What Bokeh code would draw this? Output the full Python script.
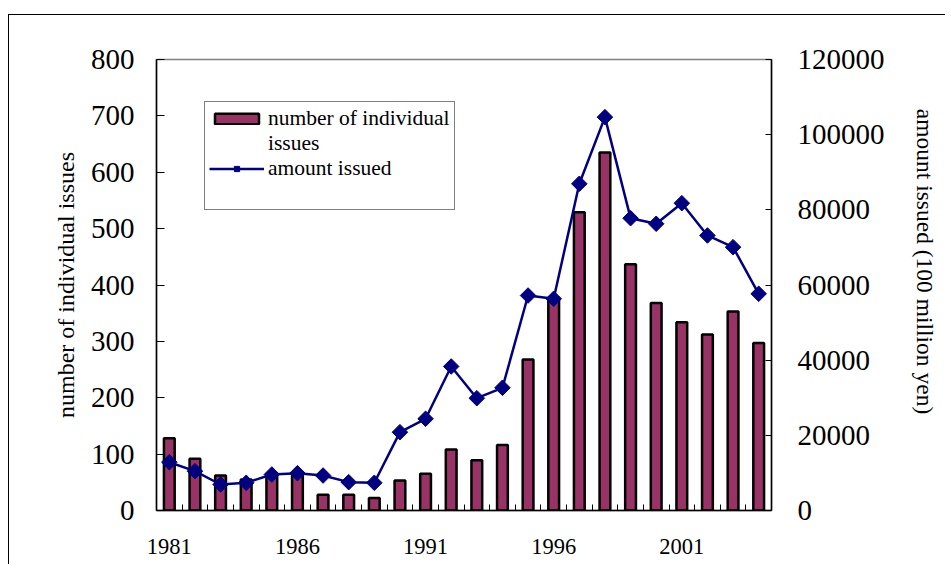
import numpy as np
from bokeh.plotting import figure
from bokeh.models import (Range1d, LinearAxis, FixedTicker, NumeralTickFormatter,
                          Legend, LegendItem)
from bokeh.embed import file_html
from bokeh.resources import INLINE

years = list(range(1981, 2005))
num_issues = [128, 92, 62, 55, 62, 62, 28, 28, 22, 53, 65, 108, 89, 116, 268,
              378, 529, 635, 437, 368, 334, 312, 353, 297]
amount_issued = [12850, 10460, 6920, 7370, 9580, 9930, 9310, 7540, 7370, 20840,
                 24400, 38320, 29880, 32650, 57200, 56330, 86930, 104660, 77780,
                 76290, 81770, 73180, 70070, 57660]
year_labels = [1981, 1986, 1991, 1996, 2001]
left_ticks = list(range(0, 801, 100))
right_ticks = list(range(0, 120001, 20000))

FONT = "Liberation Serif"

p = figure(width=937, height=550, output_backend="svg", toolbar_location=None,
           x_range=Range1d(years[0] - 0.5, years[-1] + 0.5),
           y_range=Range1d(0, 800),
           min_border_left=147, min_border_top=44, min_border_right=175,
           min_border_bottom=55,
           styles={"margin-left": "8px", "margin-top": "14px",
                   "border-left": "1px solid black", "border-top": "1px solid black"})
p.extra_y_ranges = {"amt": Range1d(0, 120000)}
p.xgrid.visible = False
p.ygrid.visible = False
p.outline_line_color = "#808080"
p.outline_line_width = 1.5

bars = p.vbar(x=years, top=num_issues, width=0.42, fill_color="#993366",
              line_color="black", line_width=2.5)
line = p.line(x=years, y=amount_issued, y_range_name="amt", line_color="#000080",
              line_width=2.5)
marks = p.scatter(x=years, y=amount_issued, y_range_name="amt", marker="square",
                  angle=np.pi / 4, size=11, fill_color="#000080", line_color="#000080")
blank = p.scatter(x=[], y=[], alpha=0)

# bottom axis
xa = p.xaxis[0]
xa.ticker = FixedTicker(ticks=year_labels,
                        minor_ticks=[y + 0.5 for y in years[:-1]])
xa.major_tick_in = 0
xa.major_tick_out = 0
xa.minor_tick_in = 6
xa.minor_tick_out = 0
xa.axis_line_color = "black"
xa.axis_line_width = 1.5
xa.major_label_text_font = FONT
xa.major_label_text_font_size = "22.5px"
xa.major_label_text_color = "black"
xa.major_label_standoff = 28

# left axis
ya = p.yaxis[0]
ya.ticker = FixedTicker(ticks=left_ticks)
ya.minor_tick_line_color = None
ya.major_tick_in = 8
ya.major_tick_out = 0
ya.axis_line_color = "black"
ya.axis_line_width = 1.5
ya.major_label_text_font = FONT
ya.major_label_text_font_size = "29px"
ya.major_label_text_color = "black"
ya.major_label_standoff = 22
ya.axis_label = "number of individual issues"
ya.axis_label_text_font = FONT
ya.axis_label_text_font_style = "normal"
ya.axis_label_text_font_size = "24px"
ya.axis_label_text_color = "black"
ya.axis_label_standoff = 9

# right axis
ra = LinearAxis(y_range_name="amt", ticker=FixedTicker(ticks=right_ticks),
                formatter=NumeralTickFormatter(format="0"))
ra.minor_tick_line_color = None
ra.major_tick_in = 6
ra.major_tick_out = 0
ra.axis_line_color = "black"
ra.axis_line_width = 1.5
ra.major_label_text_font = FONT
ra.major_label_text_font_size = "29px"
ra.major_label_text_color = "black"
ra.major_label_standoff = 26
# trailing no-break spaces lift the title a little above centre, as in the original
ra.axis_label = "amount issued (100 million yen)" + "\u00a0" * 8
ra.axis_label_text_font = FONT
ra.axis_label_text_font_style = "normal"
ra.axis_label_text_font_size = "23.5px"
ra.axis_label_text_color = "black"
ra.axis_label_standoff = 24
p.add_layout(ra, "right")

legend = Legend(items=[
    LegendItem(label="number of individual", renderers=[bars]),
    LegendItem(label="issues", renderers=[blank]),
    LegendItem(label="amount issued", renderers=[line, marks]),
    LegendItem(label=" ", renderers=[blank]),
], location=(48, 300))
legend.label_text_font = FONT
legend.label_text_font_size = "21.5px"
legend.label_text_color = "black"
legend.label_height = 24
legend.border_line_color = "black"
legend.border_line_width = 1
legend.glyph_width = 55
legend.glyph_height = 13
legend.padding = 4
legend.spacing = 0
legend.label_standoff = 4
legend.margin = 0
p.add_layout(legend, "center")

open("out.html", "w").write(file_html(p, INLINE))
